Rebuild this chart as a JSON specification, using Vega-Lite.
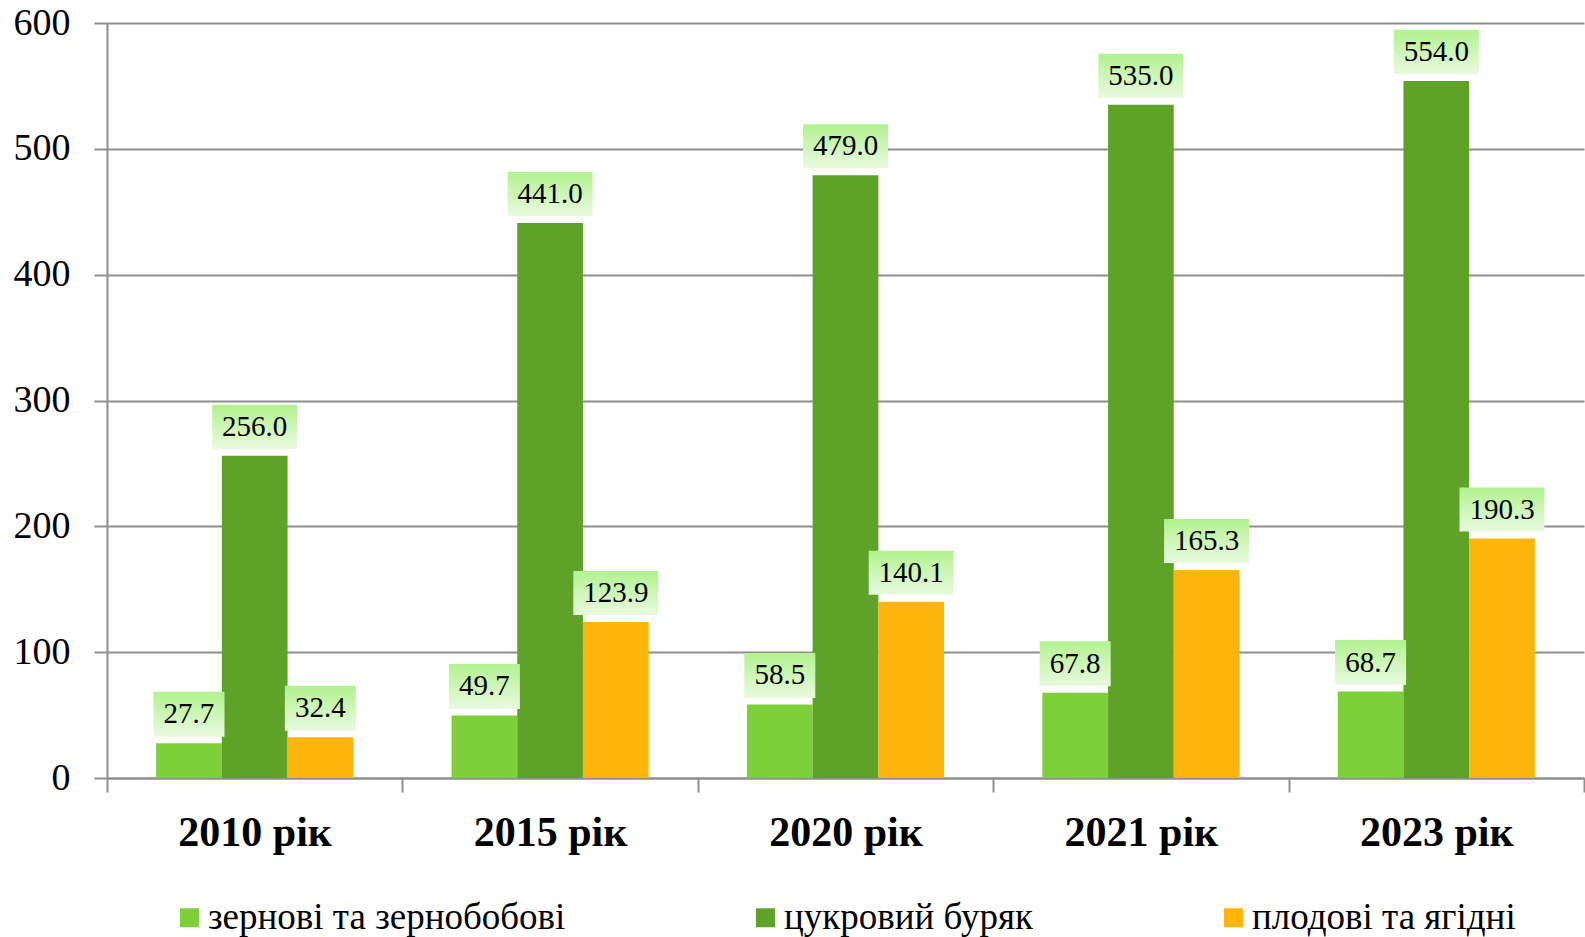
{
  "$schema": "https://vega.github.io/schema/vega-lite/v6.json",
  "width": 1477,
  "height": 755,
  "autosize": {"type": "none"},
  "padding": {"left": 107, "top": 23, "right": 1, "bottom": 159},
  "background": "white",
  "config": {"view": {"stroke": null}, "font": "Liberation Serif"},
  "data": {
    "values": [
      {"year": "2010 рік", "crop": "зернові та зернобобові", "value": 27.7},
      {"year": "2010 рік", "crop": "цукровий буряк", "value": 256.0},
      {"year": "2010 рік", "crop": "плодові та ягідні", "value": 32.4},
      {"year": "2015 рік", "crop": "зернові та зернобобові", "value": 49.7},
      {"year": "2015 рік", "crop": "цукровий буряк", "value": 441.0},
      {"year": "2015 рік", "crop": "плодові та ягідні", "value": 123.9},
      {"year": "2020 рік", "crop": "зернові та зернобобові", "value": 58.5},
      {"year": "2020 рік", "crop": "цукровий буряк", "value": 479.0},
      {"year": "2020 рік", "crop": "плодові та ягідні", "value": 140.1},
      {"year": "2021 рік", "crop": "зернові та зернобобові", "value": 67.8},
      {"year": "2021 рік", "crop": "цукровий буряк", "value": 535.0},
      {"year": "2021 рік", "crop": "плодові та ягідні", "value": 165.3},
      {"year": "2023 рік", "crop": "зернові та зернобобові", "value": 68.7},
      {"year": "2023 рік", "crop": "цукровий буряк", "value": 554.0},
      {"year": "2023 рік", "crop": "плодові та ягідні", "value": 190.3}
    ]
  },
  "encoding": {
    "x": {
      "field": "year", "type": "nominal",
      "sort": ["2010 рік", "2015 рік", "2020 рік", "2021 рік", "2023 рік"],
      "scale": {"paddingInner": 0, "paddingOuter": 0},
      "axis": {
        "title": null, "labelAngle": 0, "labelFontSize": 42, "labelFontWeight": "bold",
        "labelColor": "black", "labelFont": "Liberation Serif", "tickBand": "extent",
        "tickSize": 14, "tickWidth": 2, "tickColor": "#8e8e8e",
        "domainColor": "#8e8e8e", "domainWidth": 2, "labelPadding": 20
      }
    },
    "xOffset": {
      "field": "crop", "type": "nominal",
      "sort": ["зернові та зернобобові", "цукровий буряк", "плодові та ягідні"],
      "scale": {"paddingInner": 0, "paddingOuter": 0.748}
    },
    "y": {
      "field": "value", "type": "quantitative",
      "scale": {"domain": [0, 600]},
      "axis": {
        "title": null, "values": [0, 100, 200, 300, 400, 500, 600],
        "grid": true, "gridColor": "#8e8e8e", "gridWidth": 2,
        "domainColor": "#8e8e8e", "domainWidth": 2,
        "tickColor": "#8e8e8e", "tickWidth": 2, "tickSize": 13,
        "labelFontSize": 38, "labelColor": "black", "labelPadding": 24,
        "labelFont": "Liberation Serif"
      }
    }
  },
  "layer": [
    {
      "mark": {"type": "bar"},
      "encoding": {
        "color": {
          "field": "crop", "type": "nominal",
          "sort": ["зернові та зернобобові", "цукровий буряк", "плодові та ягідні"],
          "scale": {
            "domain": ["зернові та зернобобові", "цукровий буряк", "плодові та ягідні"],
            "range": ["#7ed03b", "#5fa228", "#fdb50b"]
          },
          "legend": {
            "orient": "none", "legendX": 64, "legendY": 876, "direction": "horizontal",
            "title": null, "symbolType": "square", "symbolSize": 361,
            "labelFontSize": 37, "labelFont": "Liberation Serif", "labelColor": "black",
            "labelOffset": 0, "columnPadding": 181, "symbolStrokeWidth": 0, "padding": 0,
            "labelLimit": 0
          }
        }
      }
    },
    {
      "transform": [{"filter": "datum.value < 100"}],
      "mark": {
        "type": "point", "shape": "M-1,-0.634H1V0.634H-1Z", "filled": true,
        "size": 5041, "yOffset": -29, "opacity": 1, "strokeWidth": 0,
        "fill": {"gradient": "linear", "x1": 0, "y1": 0, "x2": 0, "y2": 1,
          "stops": [{"offset": 0, "color": "#b2f28f"}, {"offset": 1, "color": "#e9fae0"}]}
      },
      "encoding": {}
    },
    {
      "transform": [{"filter": "datum.value >= 100"}],
      "mark": {
        "type": "point", "shape": "M-1,-0.518H1V0.518H-1Z", "filled": true,
        "size": 7225, "yOffset": -29, "opacity": 1, "strokeWidth": 0,
        "fill": {"gradient": "linear", "x1": 0, "y1": 0, "x2": 0, "y2": 1,
          "stops": [{"offset": 0, "color": "#b2f28f"}, {"offset": 1, "color": "#e9fae0"}]}
      },
      "encoding": {}
    },
    {
      "mark": {"type": "text", "dy": -29, "fontSize": 29, "baseline": "middle", "color": "black", "font": "Liberation Serif"},
      "encoding": {
        "text": {"field": "value", "type": "quantitative", "format": ".1f"}
      }
    }
  ]
}
